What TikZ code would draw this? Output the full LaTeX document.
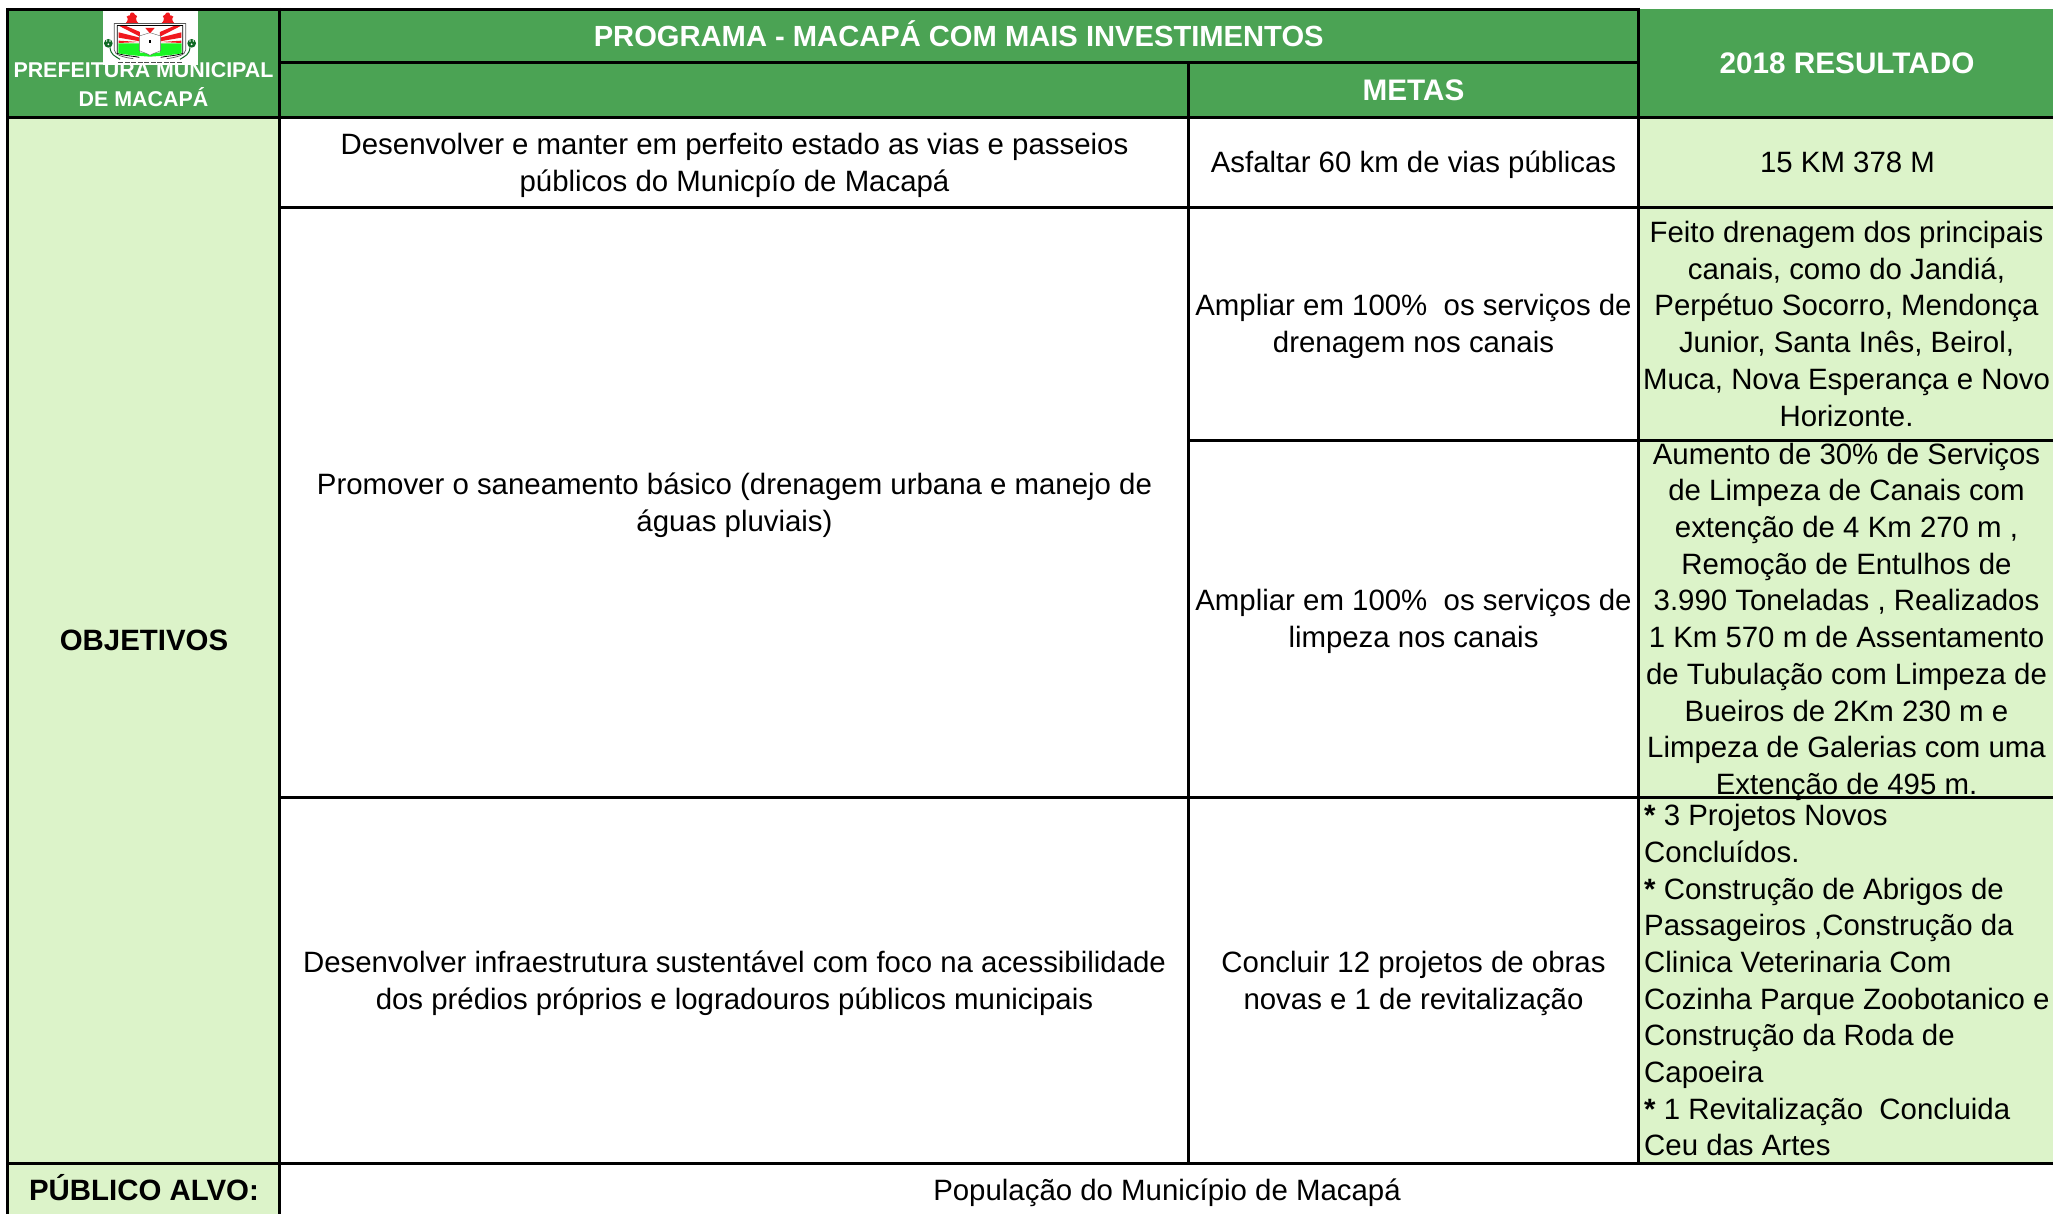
\documentclass[tikz,border=0pt]{standalone}
\usepackage{fontspec}
\setmainfont{Liberation Sans}
\definecolor{hdr}{RGB}{75,163,84}
\definecolor{lite}{RGB}{220,243,201}
\definecolor{crestred}{RGB}{240,25,30}
\definecolor{crestgreen}{RGB}{25,245,35}
\definecolor{plant}{RGB}{15,105,35}
\newcommand{\crestHalf}{%
  \fill[crestred] (375,72) .. controls (384,62) and (386,58) .. (380,50) .. controls (385,46) and (388,46) .. (390,46) .. controls (388,36) and (402,34) .. (405,44) .. controls (412,46) and (414,50) .. (408,56) .. controls (408,62) and (412,68) .. (418,72) -- cycle;
  \fill[crestred] (358,78) -- (378,78) -- (420,96) -- (420,110) -- cycle;
  \fill[crestred] (356,97) -- (420,113) -- (420,124) -- (356,113) -- cycle;
  \fill[crestred] (356,122) -- (418,126) -- (356,129) -- cycle;
  \draw[crestline] (343,70) -- (343,150) .. controls (343,165) and (370,172) .. (400,176);
  \draw[crestline,black,line width=.8pt] (352,76) -- (352,160) .. controls (375,168) and (400,168) .. (418,172);
  \draw[plant,line width=1pt] (330,142) .. controls (332,165) and (345,168) .. (360,178);
  \fill[plant] (325,130) circle (13);
  \fill[white] (320,123) circle (2.5) (330,123) circle (2.5) (325,133) circle (3);
}
\tikzset{
  rule/.style={line width=3pt,black},
  crestline/.style={line width=.7pt,black!65},
  body/.style={inner sep=0pt,align=center,text=black,font=\fontsize{29.4}{36.7}\selectfont},
  leftbody/.style={body,align=left,anchor=west},
  head/.style={inner sep=0pt,align=center,text=white,font=\fontsize{29.7}{36.7}\selectfont\bfseries},
  titlehead/.style={head,font=\fontsize{29.15}{36.7}\selectfont\bfseries},
  small/.style={inner sep=0pt,align=center,text=white,font=\fontsize{21.4}{28.8}\selectfont\bfseries},
  side/.style={inner sep=0pt,align=center,text=black,font=\fontsize{29.4}{36.7}\selectfont\bfseries},
}
\begin{document}
\begin{tikzpicture}[x=1pt,y=-1pt]
\useasboundingbox (0,0) rectangle (2053,1214);
% fills
\fill[hdr] (7.5,9.5) rectangle (2053,117.5);
\fill[lite] (7.5,117.5) rectangle (279.5,1214);
\fill[lite] (1638,117.5) rectangle (2053,1163.5);
% header
\node[small] (pref) at (143.5,86.5) {\strut PREFEITURA MUNICIPAL\\DE MACAPÁ\strut};
\node[titlehead] (prog) at (958.7,39) {\strut PROGRAMA - MACAPÁ COM MAIS INVESTIMENTOS};
\node[head] (metas) at (1413.5,93) {\strut METAS};
\node[head] (res) at (1847,66) {\strut 2018 RESULTADO};
% left column
\node[side] (obj) at (144,643.5) {\strut OBJETIVOS};
\node[side] (pub) at (144,1193) {\strut PÚBLICO ALVO:};
\node[body] (pop) at (1167,1193) {\strut População do Município de Macapá};
% objectives
\node[body] (o1) at (734.5,165.5) {\strut Desenvolver e manter em perfeito estado as vias e passeios\\públicos do Municpío de Macapá\strut};
\node[body] (o2) at (734.5,505.5) {\strut Promover o saneamento básico (drenagem urbana e manejo de\\águas pluviais)\strut};
\node[body] (o3) at (734.5,983.5) {\strut Desenvolver infraestrutura sustentável com foco na acessibilidade\\dos prédios próprios e logradouros públicos municipais\strut};
% metas
\node[body] (m1) at (1413.5,165.5) {\strut Asfaltar 60 km de vias públicas};
\node[body] (m2) at (1413.5,327) {\strut Ampliar em 100\%\ \ os serviços de\\drenagem nos canais\strut};
\node[body] (m3) at (1413.5,621.7) {\strut Ampliar em 100\%\ \ os serviços de\\limpeza nos canais\strut};
\node[body] (m4) at (1413.5,983.5) {\strut Concluir 12 projetos de obras\\novas e 1 de revitalização\strut};
% results
\node[body] (r1) at (1847.5,165.5) {\strut 15 KM 378 M};
\node[body] (r2) at (1846.5,327) {\strut Feito drenagem dos principais\\canais, como do Jandiá,\\Perpétuo Socorro, Mendonça\\Junior, Santa Inês, Beirol,\\Muca, Nova Esperança e Novo\\Horizonte.\strut};
\node[body] (r3) at (1846.5,622) {\strut Aumento de 30\% de Serviços\\de Limpeza de Canais com\\extenção de 4 Km 270 m ,\\Remoção de Entulhos de\\3.990 Toneladas , Realizados\\1 Km 570 m de Assentamento\\de Tubulação com Limpeza de\\Bueiros de 2Km 230 m e\\Limpeza de Galerias com uma\\Extenção de 495 m.\strut};
\node[leftbody] (r4) at (1644,983.5) {\strut\textbf{*} 3 Projetos Novos\\Concluídos.\\\textbf{*} Construção de Abrigos de\\Passageiros ,Construção da\\Clinica Veterinaria Com\\Cozinha Parque Zoobotanico e\\Construção da Roda de\\Capoeira\\\textbf{*} 1 Revitalização\ \ Concluida\\Ceu das Artes\strut};
% crest
\begin{scope}[x=0.33333pt,y=-0.33333pt]
  \fill[white] (309,33) rectangle (594,195);
  \crestHalf
  \begin{scope}[shift={(900,0)},xscale=-1]
    \crestHalf
  \end{scope}
  \draw[crestline] (343,70) -- (557,70);
  \draw[crestline,black,line width=.8pt] (352,76) -- (548,76);
  \fill[crestgreen] (355,130) -- (420,130) -- (420,158) -- (480,158) -- (480,130) -- (545,130) -- (545,160) .. controls (510,166) and (480,168) .. (450,170) .. controls (420,168) and (390,166) .. (355,160) -- cycle;
  \fill[white,draw=black!60,line width=.4pt] (418,108) -- (450,98) -- (482,108) -- (482,152) .. controls (470,158) and (458,160) .. (450,166) .. controls (442,160) and (430,158) .. (418,152) -- cycle;
  \fill[black] (447,119) rectangle (453,129);
  \fill[crestred] (436,84) -- (464,84) -- (450,100) -- cycle;
  \draw[black!70,line width=.9pt,dash pattern=on 5pt off 1.5pt] (355,186) -- (545,186);
\end{scope}
% rules
\draw[rule] (7.5,8) -- (7.5,1214);
\draw[rule] (279.5,8) -- (279.5,1214);
\draw[rule] (1188.5,63) -- (1188.5,1163.5);
\draw[rule] (1638,8) -- (1638,1163.5);
\draw[rule] (6,9.5) -- (1639.5,9.5);
\draw[rule] (279.5,63) -- (1638,63);
\draw[rule] (6,117.5) -- (2053,117.5);
\draw[rule] (279.5,207.5) -- (2053,207.5);
\draw[rule] (1188.5,440) -- (2053,440);
\draw[rule] (279.5,797.5) -- (2053,797.5);
\draw[rule] (6,1163.5) -- (2053,1163.5);
\end{tikzpicture}
\end{document}
